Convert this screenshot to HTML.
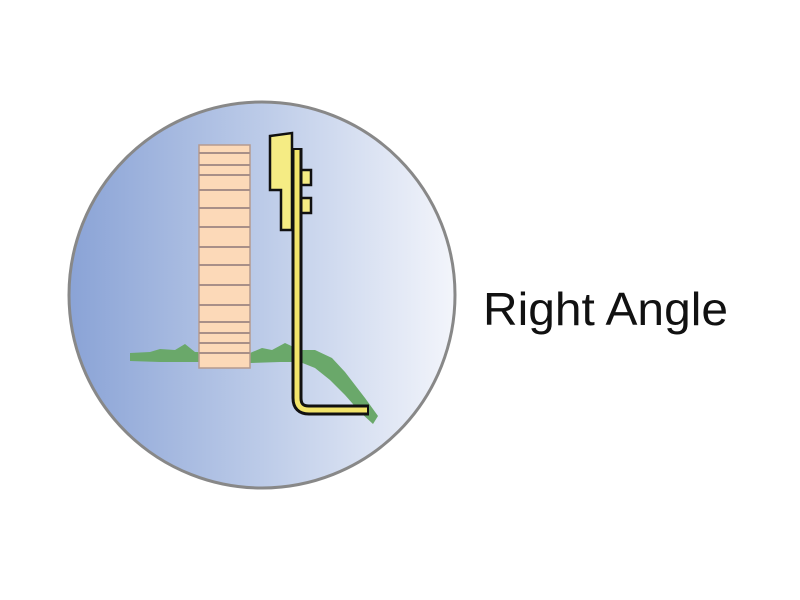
<!DOCTYPE html>
<html><head><style>html,body{margin:0;padding:0;background:#fff}svg{display:block}</style></head>
<body>
<svg width="800" height="600" viewBox="0 0 800 600" xmlns="http://www.w3.org/2000/svg">
<defs>
<linearGradient id="g" x1="0" y1="0" x2="1" y2="0">
<stop offset="0" stop-color="#8aa3d6"/>
<stop offset="0.5" stop-color="#bccbe8"/>
<stop offset="1" stop-color="#f3f5fb"/>
</linearGradient>
</defs>
<circle cx="262" cy="295" r="193" fill="url(#g)" stroke="#888" stroke-width="3"/>
<!-- grass -->
<path d="M130 353 L150 352 L160 349 L175 350 L185 344 L195 352 L250 353 L262 348 L272 350 L285 343 L300 350 L315 350 L332 358 L345 372 L355 385 L365 398 L378 416 L373 424 L360 412 L345 395 L330 380 L315 368 L300 362 L280 362 L250 363 L200 362 L160 362 L130 361 Z" fill="#6aa86a"/>
<!-- brick column -->
<rect x="199" y="145" width="51" height="223" fill="#fcd9b8" stroke="#b59a8f" stroke-width="1.5"/>
<g stroke="#a88f88" stroke-width="2">
<line x1="199" y1="153" x2="250" y2="153"/>
<line x1="199" y1="165" x2="250" y2="165"/>
<line x1="199" y1="175" x2="250" y2="175"/>
<line x1="199" y1="190" x2="250" y2="190"/>
<line x1="199" y1="208" x2="250" y2="208"/>
<line x1="199" y1="227" x2="250" y2="227"/>
<line x1="199" y1="247" x2="250" y2="247"/>
<line x1="199" y1="265" x2="250" y2="265"/>
<line x1="199" y1="285" x2="250" y2="285"/>
<line x1="199" y1="305" x2="250" y2="305"/>
<line x1="199" y1="322" x2="250" y2="322"/>
<line x1="199" y1="333" x2="250" y2="333"/>
<line x1="199" y1="343" x2="250" y2="343"/>
<line x1="199" y1="353" x2="250" y2="353"/>
</g>
<!-- tabs -->
<rect x="301" y="170" width="10" height="15" fill="#f5ec84" stroke="#111" stroke-width="2.5"/>
<rect x="301" y="198" width="10" height="15" fill="#f5ec84" stroke="#111" stroke-width="2.5"/>
<!-- plate -->
<path d="M270 136 L292 133 L292 230 L281 230 L281 190 L270 190 Z" fill="#f5ec84" stroke="#111" stroke-width="2.5"/>
<!-- rod -->
<path d="M297 148 L297 398 Q297 410 309 410 L369 410" fill="none" stroke="#111" stroke-width="11" stroke-linejoin="round"/>
<path d="M297 150 L297 398 Q297 410 309 410 L367 410" fill="none" stroke="#f2e46a" stroke-width="5"/>
<text x="483" y="325" font-family="Liberation Sans, sans-serif" font-size="46" fill="#111" textLength="245" lengthAdjust="spacingAndGlyphs">Right Angle</text>
</svg>
</body></html>
